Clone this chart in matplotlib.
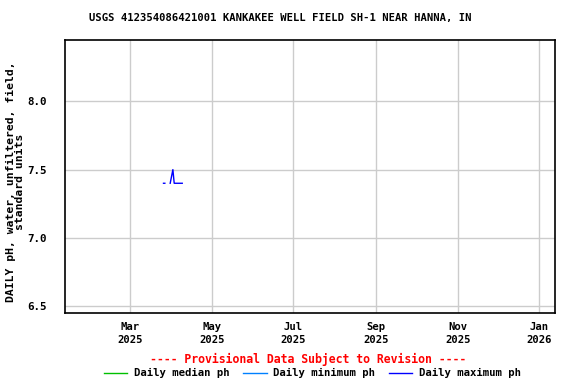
import numpy as np
import pandas as pd
import matplotlib
matplotlib.use("Agg")
import matplotlib.pyplot as plt
from matplotlib.lines import Line2D

# daily maximum pH (only series with visible data)
max_dates = ["2025-03-26", "2025-03-27", "2025-03-29",
             "2025-03-31", "2025-04-01", "2025-04-02", "2025-04-03", "2025-04-04",
             "2025-04-05", "2025-04-06", "2025-04-07", "2025-04-08", "2025-04-09"]
max_vals = [7.4, 7.4, np.nan,
            7.4, 7.45, 7.5, 7.4, 7.4,
            7.4, 7.4, 7.4, 7.4, 7.4]

tick_dates = ["2025-03-01", "2025-05-01", "2025-07-01", "2025-09-01", "2025-11-01", "2026-01-01"]
tick_labels = ["Mar\n2025", "May\n2025", "Jul\n2025", "Sep\n2025", "Nov\n2025", "Jan\n2026"]
y_ticks = [6.5, 7.0, 7.5, 8.0]
y_labels = ["6.5", "7.0", "7.5", "8.0"]

plt.rcParams['font.family'] = ['DejaVu Sans Mono']
plt.rcParams['font.weight'] = 'bold'
plt.rcParams['font.size'] = 7.6

fig = plt.figure(figsize=(5.76, 3.84), dpi=100)
ax = fig.add_axes([0.112, 0.184, 0.851, 0.713])

x = pd.to_datetime(max_dates)
ax.plot(x, max_vals, color="#0000ff", lw=1.0)

ax.set_xlim(pd.Timestamp("2025-01-11"), pd.Timestamp("2026-01-12 10:00"))
ax.set_ylim(6.447, 8.453)

ax.set_xticks(pd.to_datetime(tick_dates))
ax.set_xticklabels(tick_labels, fontweight='bold', linespacing=1.45)
ax.set_yticks(y_ticks)
ax.set_yticklabels(y_labels, fontweight='bold', fontsize=7.8)
ax.tick_params(axis='x', length=0, pad=6)
ax.tick_params(axis='y', length=0, pad=13)
ax.grid(True, color="#cccccc", lw=1)
ax.set_axisbelow(True)
for s in ax.spines.values():
    s.set_linewidth(1.2)

ax.set_ylabel("DAILY pH, water, unfiltered, field,\nstandard units",
              fontweight='bold', fontsize=8.2, linespacing=0.9)
ax.yaxis.set_label_coords(-0.1, 0.48)
ax.yaxis.label.set_va('center')
fig.suptitle("USGS 412354086421001 KANKAKEE WELL FIELD SH-1 NEAR HANNA, IN",
             x=0.487, y=0.965, fontsize=7.6, fontweight='bold')

fig.text(0.535, 0.065, "---- Provisional Data Subject to Revision ----",
         color="red", ha="center", va="center", fontweight='bold', fontsize=8.3)

handles = [Line2D([], [], color="#00c000", lw=1),
           Line2D([], [], color="#0080ff", lw=1),
           Line2D([], [], color="#0000ff", lw=1)]
fig.legend(handles, ["Daily median ph", "Daily minimum ph", "Daily maximum ph"],
           loc="center", bbox_to_anchor=(0.542, 0.028), ncol=3, frameon=False,
           handlelength=2.2, handletextpad=0.6, columnspacing=1.3,
           prop={'weight': 'bold', 'size': 7.7})

fig.savefig("out.png", dpi=100)
